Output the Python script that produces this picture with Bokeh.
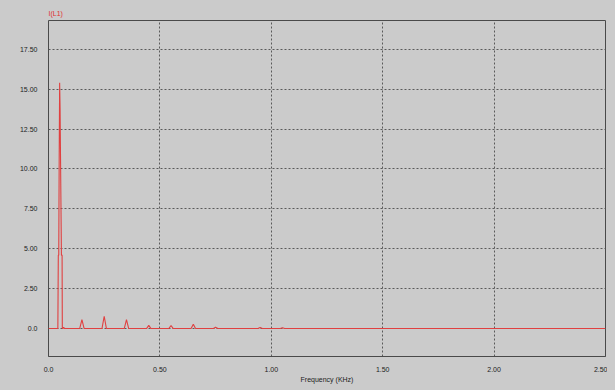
from bokeh.plotting import figure
from bokeh.models import FixedTicker
from bokeh.embed import file_html
from bokeh.resources import INLINE

# Spectrum of I(L1): frequency (kHz) vs amplitude
freq = [0.0, 0.042, 0.044, 0.046, 0.048, 0.050, 0.052, 0.054, 0.058, 0.061, 0.062,
        0.064, 0.068, 0.072,
        0.140, 0.150, 0.160,
        0.240, 0.250, 0.260,
        0.340, 0.350, 0.360,
        0.440, 0.450, 0.460,
        0.540, 0.550, 0.560,
        0.640, 0.650, 0.660,
        0.740, 0.750, 0.760,
        0.940, 0.950, 0.960,
        1.040, 1.050, 1.060,
        2.50]
amp = [0.0, 0.0, 4.6, 4.6, 10.7, 15.4, 13.8, 10.7, 4.6, 4.6, 0.0,
       0.0, 0.08, 0.0,
       0.0, 0.56, 0.0,
       0.0, 0.77, 0.0,
       0.0, 0.56, 0.0,
       0.0, 0.20, 0.0,
       0.0, 0.19, 0.0,
       0.0, 0.27, 0.0,
       0.0, 0.08, 0.0,
       0.0, 0.06, 0.0,
       0.0, 0.05, 0.0,
       0.0]

x_ticks = [0.0, 0.5, 1.0, 1.5, 2.0, 2.5]
x_tick_labels = ["0.0", "0.50", "1.00", "1.50", "2.00", "2.50"]
y_ticks = [0.0, 2.5, 5.0, 7.5, 10.0, 12.5, 15.0, 17.5]
y_tick_labels = ["0.0", "2.50", "5.00", "7.50", "10.00", "12.50", "15.00", "17.50"]

BG = "#cbcbcb"
FONT = "Liberation Sans Narrow, Liberation Sans, Arial"

p = figure(width=607, height=385, output_backend="svg", toolbar_location=None,
           x_range=(0.0, 2.5), y_range=(-1.75, 19.3),
           title="I(L1)", x_axis_label="Frequency (KHz)")
p.min_border_left = 48
p.min_border_right = 2
p.min_border_top = 20
p.min_border_bottom = 26

p.background_fill_color = BG
p.border_fill_color = BG
p.outline_line_color = "#4a4a4a"
p.outline_line_width = 1

p.title.text_color = "#e03030"
p.title.text_font = FONT
p.title.text_font_size = "7px"
p.title.text_font_style = "normal"
p.title.offset = 0
p.title.standoff = 7

for ax in (p.xaxis[0], p.yaxis[0]):
    ax.major_tick_line_color = None
    ax.minor_tick_line_color = None
    ax.major_label_text_font = FONT
    ax.major_label_text_font_size = "7px"
    ax.major_label_text_color = "#222222"

p.xaxis.ticker = FixedTicker(ticks=x_ticks)
p.xaxis.major_label_overrides = dict(zip(x_ticks, x_tick_labels))
p.xaxis.axis_line_color = "#4a4a4a"
p.xaxis.major_label_standoff = 4
p.xaxis.axis_label_text_font = FONT
p.xaxis.axis_label_text_font_size = "7px"
p.xaxis.axis_label_text_font_style = "normal"
p.xaxis.axis_label_text_color = "#222222"
p.xaxis.axis_label_standoff = 1

p.yaxis.ticker = FixedTicker(ticks=y_ticks)
p.yaxis.major_label_overrides = dict(zip(y_ticks, y_tick_labels))
p.yaxis.axis_line_color = None
p.yaxis.major_label_standoff = 5

for g in (p.xgrid[0], p.ygrid[0]):
    g.grid_line_color = "#5a5a5a"
    g.grid_line_dash = "2 2"
    g.grid_line_width = 1

p.line(freq, amp, line_color="#e04040", line_width=1.1)

html = file_html(p, INLINE)
html = html.replace("<head>", "<head><style>html,body{background:%s;}</style>" % BG, 1)
open("out.html", "w").write(html)
